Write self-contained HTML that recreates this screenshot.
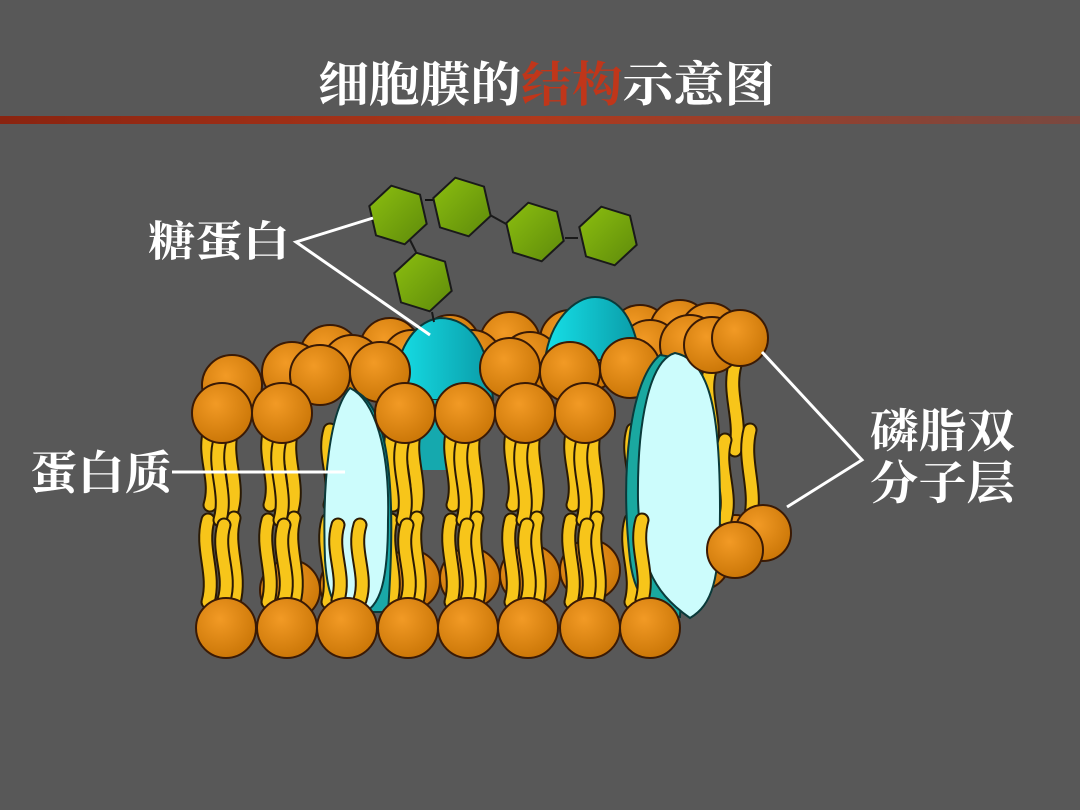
<!DOCTYPE html>
<html><head><meta charset="utf-8"><style>
html,body{margin:0;padding:0;background:#585858;}
svg{display:block}
text{font-family:"Liberation Serif","Noto Serif CJK SC","Noto Sans CJK SC",serif;font-weight:bold;}
</style></head><body>
<svg id="s" width="1080" height="810" viewBox="0 0 1080 810" xmlns="http://www.w3.org/2000/svg">
<defs>
<radialGradient id="hd" cx="0.4" cy="0.35" r="0.7"><stop offset="0" stop-color="#f29a25"/><stop offset="1" stop-color="#c97506"/></radialGradient>
<linearGradient id="rl" x1="0" x2="1"><stop offset="0" stop-color="#8a2410"/><stop offset="0.5" stop-color="#b0391c"/><stop offset="1" stop-color="#9b3a28" stop-opacity="0.5"/></linearGradient>
<linearGradient id="gr" x1="0" y1="0" x2="1" y2="1"><stop offset="0" stop-color="#8cbf10"/><stop offset="1" stop-color="#5e8a0a"/></linearGradient>
<linearGradient id="cy" x1="0" y1="0" x2="1" y2="0"><stop offset="0" stop-color="#16e0e8"/><stop offset="1" stop-color="#0a9aa6"/></linearGradient>
</defs>
<rect width="1080" height="810" fill="#585858"/>
<text x="318" y="101" font-size="48" fill="#fff" textLength="457" lengthAdjust="spacingAndGlyphs">细胞膜的<tspan fill="#c0361a">结构</tspan>示意图</text>
<rect x="0" y="116" width="1080" height="8" fill="url(#rl)"/>
<g id="mem"></g>
<g fill="url(#gr)" stroke="#1a1a1a" stroke-width="2">
<line x1="425" y1="200" x2="440" y2="200" stroke="#111"/>
<line x1="490" y1="215" x2="508" y2="225"/>
<line x1="565" y1="238" x2="578" y2="238"/>
<line x1="410" y1="240" x2="416" y2="252"/>
<line x1="432" y1="312" x2="434" y2="322"/>
</g>
<g id="hex" fill="url(#gr)" stroke="#1a1a1a" stroke-width="2"></g>
<g stroke="#fff" stroke-width="3" fill="none">
<polyline points="373,218 296,242 430,335"/>
<line x1="172" y1="472" x2="345" y2="472"/>
<polyline points="762,352 862,460 787,507"/>
</g>
<text x="148" y="256" font-size="42" fill="#fff" textLength="142" lengthAdjust="spacingAndGlyphs">糖蛋白</text>
<text x="30" y="489" font-size="46" fill="#fff" textLength="142" lengthAdjust="spacingAndGlyphs">蛋白质</text>
<text x="870" y="447" font-size="46" fill="#fff" textLength="145" lengthAdjust="spacingAndGlyphs">磷脂双</text>
<text x="870" y="499" font-size="46" fill="#fff" textLength="145" lengthAdjust="spacingAndGlyphs">分子层</text>
</svg>
<script>
var NS="http://www.w3.org/2000/svg",m=document.getElementById("mem");
function el(t,a){var e=document.createElementNS(NS,t);for(var k in a)e.setAttribute(k,a[k]);m.appendChild(e);return e;}
function head(x,y,r){el("circle",{cx:x,cy:y,r:r||30,fill:"url(#hd)",stroke:"#3a1a05","stroke-width":2});}
function tail(x,y1,y2,w){var d="M"+x+" "+y1+" C"+(x-8)+" "+(y1+(y2-y1)*0.35)+" "+(x+8)+" "+(y1+(y2-y1)*0.65)+" "+x+" "+y2;
el("path",{d:d,stroke:"#2a1a05","stroke-width":15,fill:"none","stroke-linecap":"round"});
el("path",{d:d,stroke:"#f7c51a","stroke-width":11,fill:"none","stroke-linecap":"round"});}
[[290,590],[350,585],[410,580],[470,578],[530,575],[590,570],[700,560],[735,545]].forEach(function(p){head(p[0],p[1]);});
[[330,355],[390,348],[450,345],[510,342],[570,340],[640,335],[680,330],[710,333]].forEach(function(p){head(p[0],p[1]);});
[[232,385],[292,372],[352,365],[412,360],[472,360],[530,362],[590,360],[650,350]].forEach(function(p){head(p[0],p[1]);});
el("path",{d:"M393 400 C395 340 420 320 440 318 C470 318 490 345 493 400 Z",fill:"url(#cy)",stroke:"#0a3a3a","stroke-width":2});
el("path",{d:"M545 360 C550 320 575 297 595 297 C620 297 635 320 640 360 Z",fill:"url(#cy)",stroke:"#0a3a3a","stroke-width":2});
el("path",{d:"M420 400 L420 470 L470 470 L480 400 Z",fill:"#15a9ae"});
[[320,375],[380,372],[510,368],[570,372],[630,368],[690,345]].forEach(function(p){head(p[0],p[1]);});
var xs=[222,282,342,405,465,525,585,645];
xs.forEach(function(x){tail(x-12,430,505);tail(x+10,430,510);tail(x-14,520,602);tail(x+12,518,602);tail(x-2,440,520);tail(x+2,525,600);});
[[710,370,450],[735,365,450],[750,430,520],[725,440,520],[700,430,560]].forEach(function(t){tail(t[0],t[1],t[2]);});
el("path",{d:"M352 390 C385 400 398 470 388 612 L340 612 Z",fill:"#1aa8a8",stroke:"#0a3a3a","stroke-width":2});
el("path",{d:"M350 388 C330 410 322 480 325 560 C328 600 335 612 355 615 C378 612 388 590 388 520 C390 450 375 400 350 388 Z",fill:"#ccfcfc",stroke:"#0a3a3a","stroke-width":2});
tail(338,525,600);tail(360,525,600);
el("path",{d:"M660 355 C630 380 620 470 630 560 C635 600 650 612 680 617 L690 360 Z",fill:"#1aa8a0",stroke:"#0a3a3a","stroke-width":2});
el("path",{d:"M675 353 C650 360 637 420 638 500 C640 560 650 590 690 618 C712 605 720 580 720 510 C720 420 712 360 675 353 Z",fill:"#ccfcfc",stroke:"#0a3a3a","stroke-width":2});
tail(642,520,600);
head(712,345,28);head(740,338,28);head(763,533,28);head(735,550,28);
[222,282].forEach(function(x){head(x,413);});
[405,465,525,585].forEach(function(x){head(x,413);});
[226,287,347,408,468,528,590,650].forEach(function(x){head(x,628);});
var hg=document.getElementById("hex");
[[398,215],[462,207],[535,232],[608,236],[423,282]].forEach(function(c){var p=[];for(var i=0;i<6;i++){var a=Math.PI/3*i+0.3;p.push((c[0]+30*Math.cos(a)).toFixed(1)+","+(c[1]+30*Math.sin(a)).toFixed(1));}
var e=document.createElementNS(NS,"polygon");e.setAttribute("points",p.join(" "));hg.appendChild(e);});
</script>
</body></html>
